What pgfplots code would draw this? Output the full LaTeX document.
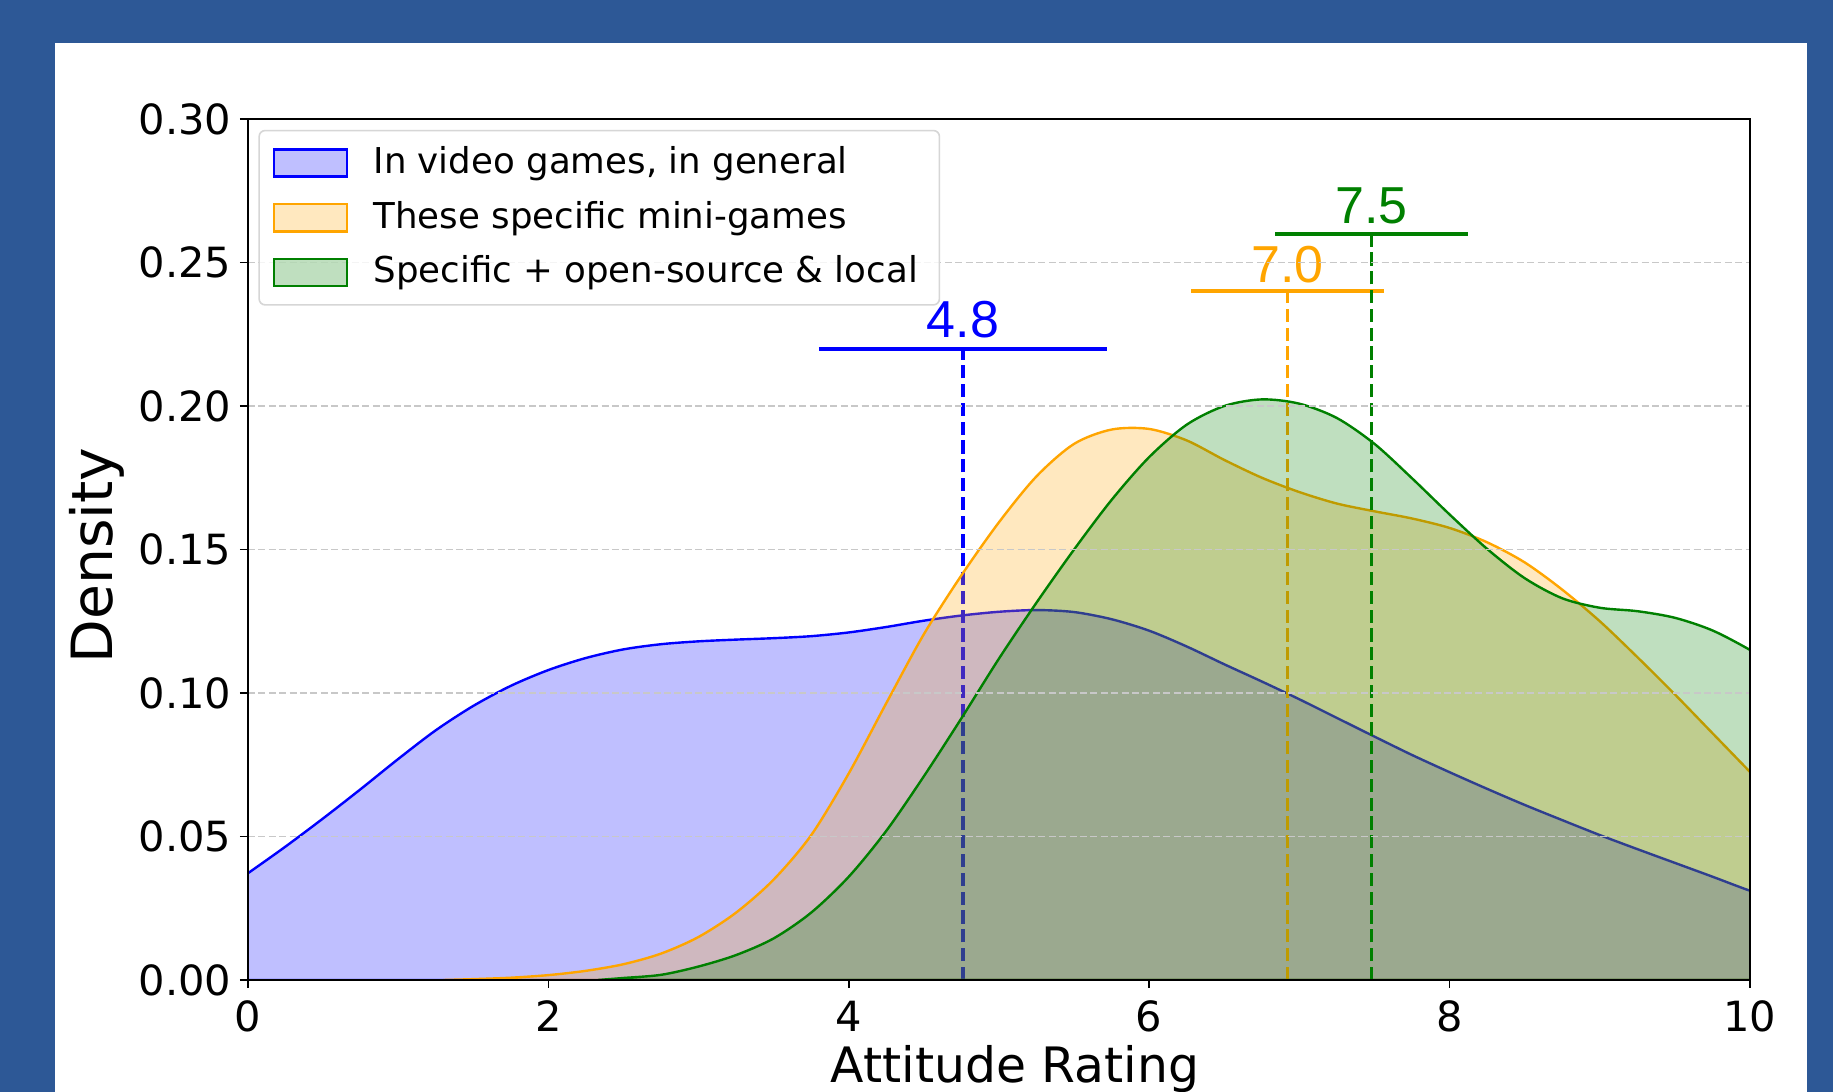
\documentclass[border=0pt]{standalone}
\usepackage{pgfplots}
\pgfplotsset{compat=1.18}
\usepackage{fontspec}
\setmainfont{DejaVu Sans}
\newfontfamily\annfont{Liberation Sans}
\definecolor{framecol}{RGB}{45,88,150}
\definecolor{mplblue}{RGB}{0,0,255}
\definecolor{mplorange}{RGB}{255,165,0}
\definecolor{mplgreen}{RGB}{0,128,0}
\definecolor{gridgray}{RGB}{200,200,200}
\definecolor{legedge}{RGB}{214,214,214}
\begin{document}
\begin{tikzpicture}
\path[use as bounding box] (-62pt,-28pt) rectangle (396.25pt,245pt);
\clip (-62pt,-28pt) rectangle (396.25pt,245pt);
\fill[framecol] (-62pt,-28pt) rectangle (396.25pt,245pt);
\fill[white] (-48.25pt,-28pt) rectangle (389.75pt,234.25pt);
\begin{axis}[
  at={(0,0)}, anchor=south west,
  scale only axis, width=375.5pt, height=215.25pt,
  xmin=0, xmax=10, ymin=0, ymax=0.30,
  xtick={0,2,4,6,8,10},
  ytick={0,0.05,0.10,0.15,0.20,0.25,0.30},
  yticklabels={0.00,0.05,0.10,0.15,0.20,0.25,0.30},
  tick pos=left, tick align=outside, major tick length=2pt,
  every tick/.style={black, line width=0.4pt},
  axis line style={line width=0.4pt},
  ymajorgrids,
  major grid style={gridgray, line width=0.3pt, dash pattern=on 1.75pt off 0.85pt},
  axis on top,
  tick label style={font=\fontsize{10.4}{12}\selectfont},
  /pgf/number format/assume math mode=true,
  yticklabel style={anchor=east, inner sep=0pt, xshift=-2pt},
  xticklabel style={anchor=north, inner sep=0pt, yshift=-3pt},
  xlabel={Attitude Rating},
  ylabel={Density},
  xlabel style={font=\fontsize{12.2}{14}\selectfont, at={(axis description cs:0.5107,-0.1196)}, anchor=base, inner sep=0pt},
  ylabel style={font=\fontsize{14.2}{16}\selectfont, at={(axis description cs:-0.0899,0.493)}, anchor=base, rotate=0, inner sep=0pt},
  legend cell align=left,
  legend image code/.code={\draw[#1, sharp corners] (0pt,-3.4pt) rectangle (18.2pt,3.4pt); \path (0pt,0pt) (22.6pt,0pt);},
  legend style={
    at={(axis description cs:0.0069,0.9875)}, anchor=north west,
    draw=legedge, line width=0.4pt, rounded corners=1.5pt,
    fill=white, fill opacity=0.8, text opacity=1,
    font=\fontsize{8.9}{11}\selectfont,
    inner xsep=3.4pt, inner ysep=2pt, row sep=1.4pt,
  },
]
% ---- series 1: In video games, in general
\addplot[draw=mplblue, line width=0.6pt, fill=mplblue, fill opacity=0.25, smooth] coordinates {
(-0.25,0.028)(0,0.0372)(0.25,0.0465)(0.5,0.0563)(0.75,0.0665)(1.0,0.0770)(1.25,0.0870)(1.5,0.0955)(1.75,0.1025)(2.0,0.1080)(2.25,0.1122)(2.5,0.1152)(2.75,0.1170)(3.0,0.1180)(3.25,0.1186)(3.5,0.1191)(3.75,0.1198)(4.0,0.1211)(4.25,0.1230)(4.5,0.1252)(4.75,0.1270)(5.0,0.1283)(5.25,0.1289)(5.5,0.1282)(5.75,0.1257)(6.0,0.1217)(6.25,0.1162)(6.5,0.1100)(6.75,0.1040)(7.0,0.0978)(7.25,0.0913)(7.5,0.0848)(7.75,0.0784)(8.0,0.0724)(8.25,0.0666)(8.5,0.0610)(8.75,0.0557)(9.0,0.0505)(9.25,0.0456)(9.5,0.0408)(9.75,0.0360)(10.0,0.0311)(10.25,0.027)
} \closedcycle;
\addlegendentry{In video games, in general}
\addplot[forget plot, mplblue, line width=0.85pt, dash pattern=on 3.3pt off 1.4pt] coordinates {(4.76,0)(4.76,0.22)};
\addplot[forget plot, mplblue, line width=1pt] coordinates {(3.80,0.22)(5.72,0.22)};
\node[text=mplblue, font=\annfont\fontsize{13}{15}\selectfont, anchor=base, inner sep=0pt] at (axis cs:4.76,0.2240) {4.8};
% ---- series 2: These specific mini-games
\addplot[draw=mplorange, line width=0.6pt, fill=mplorange, fill opacity=0.25, smooth] coordinates {
(1.3,0)(1.5,0.0003)(1.75,0.0008)(2.0,0.0017)(2.25,0.0032)(2.5,0.0055)(2.75,0.0092)(3.0,0.0150)(3.25,0.0235)(3.5,0.0350)(3.75,0.0505)(4.0,0.0720)(4.25,0.0965)(4.5,0.1205)(4.75,0.1410)(5.0,0.1595)(5.25,0.1755)(5.5,0.1868)(5.75,0.1918)(6.0,0.1920)(6.25,0.1880)(6.5,0.1812)(6.75,0.1750)(7.0,0.1700)(7.25,0.1660)(7.5,0.1633)(7.75,0.1608)(8.0,0.1575)(8.25,0.1525)(8.5,0.1455)(8.75,0.1360)(9.0,0.1250)(9.25,0.1125)(9.5,0.0995)(9.75,0.0860)(10.0,0.0725)(10.25,0.059)
} \closedcycle;
\addlegendentry{These specific mini-games}
\addplot[forget plot, mplorange, line width=0.85pt, dash pattern=on 3.3pt off 1.4pt] coordinates {(6.92,0)(6.92,0.24)};
\addplot[forget plot, mplorange, line width=1pt] coordinates {(6.28,0.24)(7.56,0.24)};
\node[text=mplorange, font=\annfont\fontsize{13}{15}\selectfont, anchor=base, inner sep=0pt] at (axis cs:6.92,0.2430) {7.0};
% ---- series 3: Specific + open-source & local
\addplot[draw=mplgreen, line width=0.6pt, fill=mplgreen, fill opacity=0.25, smooth] coordinates {
(2.33,0)(2.5,0.0007)(2.75,0.0018)(3.0,0.0047)(3.25,0.0087)(3.5,0.0145)(3.75,0.0235)(4.0,0.0360)(4.25,0.0520)(4.5,0.0710)(4.75,0.0912)(5.0,0.1120)(5.25,0.1315)(5.5,0.1500)(5.75,0.1673)(6.0,0.1822)(6.25,0.1935)(6.5,0.2000)(6.75,0.2023)(7.0,0.2008)(7.25,0.1958)(7.5,0.1868)(7.75,0.1748)(8.0,0.1622)(8.25,0.1502)(8.5,0.1400)(8.75,0.1330)(9.0,0.1297)(9.25,0.1285)(9.5,0.1262)(9.75,0.1218)(10.0,0.1150)(10.25,0.107)
} \closedcycle;
\addlegendentry{Specific + open-source \& local\hspace{-3pt}}
\addplot[forget plot, mplgreen, line width=0.85pt, dash pattern=on 3.3pt off 1.4pt] coordinates {(7.48,0)(7.48,0.26)};
\addplot[forget plot, mplgreen, line width=1pt] coordinates {(6.84,0.26)(8.12,0.26)};
\node[text=mplgreen, font=\annfont\fontsize{13}{15}\selectfont, anchor=base, inner sep=0pt] at (axis cs:7.48,0.2637) {7.5};
\end{axis}
\end{tikzpicture}
\end{document}
